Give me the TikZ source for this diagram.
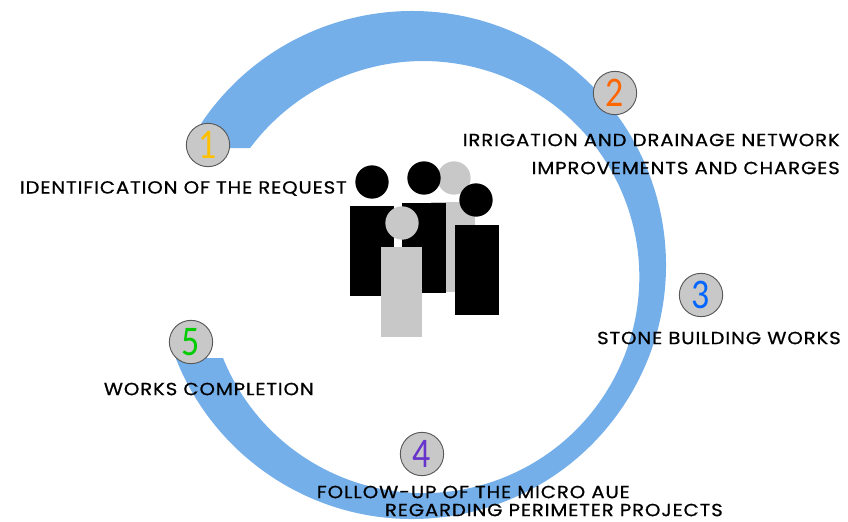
\documentclass[tikz,border=0pt]{standalone}
\usepackage{fontspec}
\setmainfont{Poppins}
\newfontfamily\digitfont{Carlito}
\newfontfamily\capsfont[FakeStretch=1.12,LetterSpace=5,FakeBold=0.7]{Poppins}
\definecolor{arcblue}{HTML}{74AFEA}
\definecolor{figgrey}{HTML}{C8C8C8}
\tikzset{
  stepnum/.style={circle,draw=black!65,line width=0.8pt,fill=figgrey,minimum size=1.3cm,inner sep=0pt,
    font=\digitfont\fontsize{36}{36}\selectfont},
  steptext/.style={inner sep=0pt,text=black,font=\capsfont\fontsize{15}{16}\selectfont},
  body/.style={inner sep=0pt,minimum width=1.32cm,minimum height=2.7cm},
  head/.style={circle,inner sep=0pt,minimum size=1cm}
}
\begin{document}
\begin{tikzpicture}[x=0.03cm,y=-0.03cm]
\useasboundingbox (0,0) rectangle (848,521);
% ring
\coordinate (outerc) at (412,265);
\fill[arcblue] (outerc) ++(213.3:254) arc[start angle=213.3,end angle=518.2,radius=254]
  -- (176,358) -- (223,358) arc[start angle=518,end angle=216.7,radius=216] -- (208,148) -- cycle;
% people
\node[body,fill=figgrey] (bodyC) at (453,247) {};
\node[head,fill=figgrey] (headC) at (454,178) {};
\node[body,fill=black] (bodyA) at (372,251) {};
\node[head,fill=black] (headA) at (372,182) {};
\node[body,fill=black] (bodyB) at (424,247.5) {};
\node[head,fill=black] (headB) at (424,178) {};
\node[body,fill=black] (bodyD) at (476.5,270) {};
\node[head,fill=black] (headD) at (476,200) {};
\node[body,fill=figgrey,minimum width=1.23cm] (bodyE) at (401.5,291.5) {};
\node[head,fill=figgrey] (headE) at (402,223) {};
% steps
\node[stepnum,text={rgb,255:red,255;green,192;blue,0}] (one) at (208,145) {\scalebox{0.85}[1]{1}};
\node[stepnum,text={rgb,255:red,255;green,102;blue,0}] (two) at (615,93) {\scalebox{0.85}[1]{2}};
\node[stepnum,text={rgb,255:red,0;green,102;blue,255}] (three) at (701,295) {\scalebox{0.85}[1]{3}};
\node[stepnum,text={rgb,255:red,102;green,51;blue,204}] (four) at (422,454) {\scalebox{0.85}[1]{4}};
\node[stepnum,text={rgb,255:red,0;green,204;blue,0}] (five) at (191,342) {\scalebox{0.85}[1]{5}};
% labels
\node[steptext,anchor=east] (request) at (347,188.5) {IDENTIFICATION OF THE REQUEST};
\node[steptext,anchor=east] (network) at (840,140) {IRRIGATION AND DRAINAGE NETWORK};
\node[steptext,anchor=east] (charges) at (840,168) {IMPROVEMENTS AND CHARGES};
\node[steptext,anchor=east] (stone) at (841,338) {STONE BUILDING WORKS};
\node[steptext,anchor=east] (completion) at (314,389) {WORKS COMPLETION};
\node[steptext,anchor=east] (followup) at (630,492) {FOLLOW-UP OF THE MICRO AUE};
\node[steptext,anchor=east] (perimeter) at (723,510) {REGARDING PERIMETER PROJECTS};
\end{tikzpicture}
\end{document}
